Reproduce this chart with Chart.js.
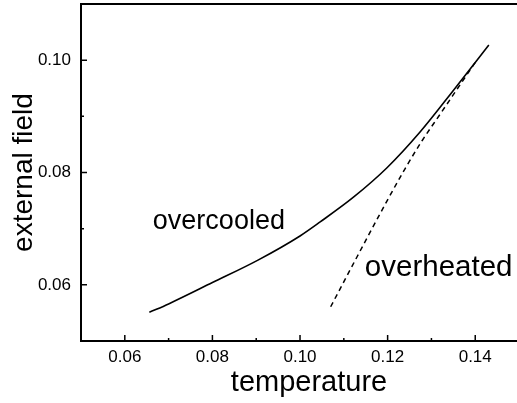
<!DOCTYPE html>
<html>
<head>
<meta charset="utf-8">
<script src="https://cdn.jsdelivr.net/npm/chart.js@4/dist/chart.umd.min.js"></script>
<style>
  html, body { margin: 0; padding: 0; background: #fff; overflow: hidden; }
  /* the plot frame runs on past the right edge of the picture, so the canvas is wider than the window */
  #wrap { width: 517px; height: 403px; position: relative; overflow: hidden; }
  #c { position: absolute; left: 0; top: 0; }
</style>
</head>
<body>
<div id="wrap"><canvas id="c" width="537" height="403"></canvas></div>
<script>
// ---- data ----
const overcooledT = [0.0656, 0.070, 0.080, 0.0904, 0.100, 0.1046, 0.1122, 0.1198, 0.1274, 0.1350, 0.1431];
const overcooledH = [0.0551, 0.0566, 0.0604, 0.0644, 0.0687, 0.0712, 0.0756, 0.0808, 0.0872, 0.0946, 0.1027];

const overheatedT = [0.1070, 0.1118, 0.1199, 0.1240, 0.1279, 0.1320, 0.1360, 0.1400];
const overheatedH = [0.0561, 0.0632, 0.0750, 0.0807, 0.0857, 0.0904, 0.0950, 0.0996];

const xTickValues = [0.06, 0.08, 0.10, 0.12, 0.14];
const xTickLabels = ['0.06', '0.08', '0.10', '0.12', '0.14'];
const xMinorValues = [0.07, 0.09, 0.11, 0.13, 0.15];
const yTickValues = [0.06, 0.08, 0.10];
const yTickLabels = ['0.06', '0.08', '0.10'];
const yMinorValues = [0.07, 0.09];

const xTitle = 'temperature';
const yTitle = 'external field';
const seriesLabels = ['overcooled', 'overheated'];
// label anchors in data coordinates (left edge, baseline)
const labelAnchors = [[0.0664, 0.0700], [0.1148, 0.0615]];
const labelSizes = [27, 29.5];

const FONT = '"Liberation Sans", Arial, Helvetica, sans-serif';

const toPts = (xs, ys) => xs.map((x, i) => ({ x: x, y: ys[i] }));

function fixPadding(s) {
  s.paddingTop = 0;
  s.paddingBottom = 0;
  s.paddingLeft = 0;
  s.paddingRight = 0;
}

const framePlugin = {
  id: 'frame',
  afterDatasetsDraw(chart) {
    const { ctx, chartArea: a, scales: { x, y } } = chart;
    ctx.save();
    ctx.strokeStyle = '#000';
    // top and right border
    ctx.lineWidth = 2;
    ctx.beginPath();
    ctx.moveTo(a.left - 1, a.top);
    ctx.lineTo(a.right, a.top);
    ctx.lineTo(a.right, a.bottom);
    ctx.stroke();
    // inward ticks
    ctx.lineWidth = 1.5;
    ctx.beginPath();
    xTickValues.forEach(v => { const p = x.getPixelForValue(v); ctx.moveTo(p, a.bottom); ctx.lineTo(p, a.bottom - 6); });
    xMinorValues.forEach(v => { const p = x.getPixelForValue(v); ctx.moveTo(p, a.bottom); ctx.lineTo(p, a.bottom - 3); });
    yTickValues.forEach(v => { const p = y.getPixelForValue(v); ctx.moveTo(a.left, p); ctx.lineTo(a.left + 6, p); });
    yMinorValues.forEach(v => { const p = y.getPixelForValue(v); ctx.moveTo(a.left, p); ctx.lineTo(a.left + 3, p); });
    ctx.stroke();
    // curve labels
    ctx.fillStyle = '#000';
    ctx.textAlign = 'left';
    ctx.textBaseline = 'alphabetic';
    seriesLabels.forEach((t, i) => {
      ctx.font = labelSizes[i] + 'px ' + FONT;
      ctx.fillText(t, x.getPixelForValue(labelAnchors[i][0]), y.getPixelForValue(labelAnchors[i][1]));
    });
    ctx.restore();
  }
};

new Chart(document.getElementById('c'), {
  type: 'scatter',
  data: {
    datasets: [
      {
        label: seriesLabels[0],
        data: toPts(overcooledT, overcooledH),
        showLine: true,
        borderColor: '#000',
        borderWidth: 1.6,
        pointRadius: 0,
        cubicInterpolationMode: 'monotone'
      },
      {
        label: seriesLabels[1],
        data: toPts(overheatedT, overheatedH),
        showLine: true,
        borderColor: '#000',
        borderWidth: 1.5,
        borderDash: [5, 4],
        pointRadius: 0,
        cubicInterpolationMode: 'monotone'
      }
    ]
  },
  options: {
    responsive: false,
    animation: false,
    devicePixelRatio: 1,
    layout: { autoPadding: false, padding: { top: 4, right: 0, left: 0, bottom: 0 } },
    plugins: { legend: { display: false }, tooltip: { enabled: false } },
    scales: {
      x: {
        type: 'linear',
        min: 0.05,
        max: 0.1541,
        afterBuildTicks: s => { s.ticks = xTickValues.map(v => ({ value: v })); },
        afterFit: s => { s.height = 62; fixPadding(s); },
        grid: { display: false, drawTicks: false },
        border: { display: true, color: '#000', width: 2 },
        ticks: {
          padding: 6,
          color: '#000',
          font: { family: FONT, size: 17 },
          maxRotation: 0,
          callback: (v, i) => xTickLabels[i]
        },
        title: {
          display: true,
          text: xTitle,
          color: '#000',
          font: { family: FONT, size: 29 },
          padding: { top: 0, bottom: 3 }
        }
      },
      y: {
        type: 'linear',
        min: 0.05,
        max: 0.11,
        afterBuildTicks: s => { s.ticks = yTickValues.map(v => ({ value: v })); },
        afterFit: s => { s.width = 81; fixPadding(s); },
        grid: { display: false, drawTicks: false },
        border: { display: true, color: '#000', width: 2 },
        ticks: {
          padding: 10,
          color: '#000',
          font: { family: FONT, size: 17 },
          callback: (v, i) => yTickLabels[i]
        },
        title: {
          display: true,
          text: yTitle,
          color: '#000',
          font: { family: FONT, size: 28 },
          padding: { top: 7, bottom: 0 }
        }
      }
    }
  },
  plugins: [framePlugin]
});
</script>
</body>
</html>
